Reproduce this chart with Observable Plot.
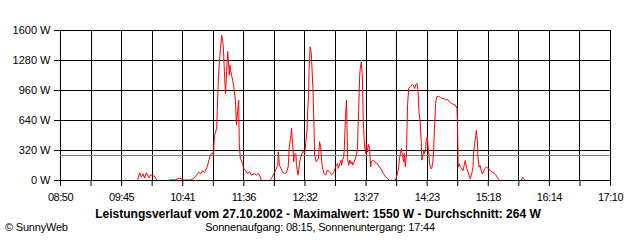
<!DOCTYPE html>
<html>
<head>
<meta charset="utf-8">
<script src="https://cdn.jsdelivr.net/npm/d3@7"></script>
<script src="https://cdn.jsdelivr.net/npm/@observablehq/plot@0.6"></script>
<style>
  html, body { margin: 0; padding: 0; background: #fff; }
  #wrap { position: relative; width: 640px; height: 240px; font-family: "Liberation Sans", Arial, sans-serif; color: #000; }
  #wrap svg { display: block; }
  #wrap svg [aria-label="x-axis tick label"] text { letter-spacing: -0.5px; }
  .cap { position: absolute; white-space: nowrap; text-align: center; }
  #title { top: 209px; left: 68px; width: 500px; font-weight: bold; font-size: 12px; line-height: 10px; letter-spacing: 0px; }
  #sub { top: 222px; left: 120px; width: 400px; font-size: 11px; line-height: 10px; letter-spacing: -0.2px; }
  #copy { top: 222px; left: 5px; font-size: 11px; line-height: 10px; text-align: left; letter-spacing: -0.2px; }
</style>
</head>
<body>
<div id="wrap">
  <div id="chart"></div>
  <div id="title" class="cap"></div>
  <div id="sub" class="cap"></div>
  <div id="copy" class="cap"></div>
</div>
<script>
// ---- data ----
const times = [
  "10:00","10:02","10:03:30","10:05","10:06:30","10:08","10:10:30","10:12","10:13:30","10:15:30","10:17:30","10:18",
  "10:28","10:29","10:34:30","10:36:30","10:38","10:40","10:42","10:48","10:51",
  "10:54:30","10:55:30","10:57:30","10:59","11:01","11:03:30","11:05","11:06:30","11:08","11:09","11:09:30",
  "11:10","11:12","11:12:30","11:13:30","11:14:30","11:15:30","11:16:30","11:17:30","11:18","11:19","11:20","11:21",
  "11:22","11:22:30","11:23:30","11:24","11:25:30","11:26:30","11:27:30","11:29","11:30","11:31","11:32","11:32:30",
  "11:33:30","11:35:30","11:36:30","11:38","11:40","11:42","11:43:30","11:46:30","11:48","11:50","11:52","11:52:30",
  "12:00","12:01","12:02:30","12:05:30","12:07:30","12:08","12:09","12:10:30","12:12","12:14","12:15:30","12:17","12:18",
  "12:19:30","12:20","12:21","12:22","12:22:30","12:24","12:24:30","12:26","12:27:30","12:28:30","12:29:30","12:30:30",
  "12:32","12:33","12:34","12:35","12:35:30","12:36","12:37","12:37:30","12:38","12:39:30","12:40:30","12:41",
  "12:42:30","12:44:30","12:45:30","12:46:30","12:47:30","12:48","12:49:30","12:51","12:52:30","12:54:30","12:56:30","12:58:30",
  "13:00","13:02","13:02:30","13:04","13:05","13:05:30","13:06:30","13:07:30","13:08","13:09","13:10","13:10:30",
  "13:11","13:12","13:13","13:14","13:15","13:15:30","13:17","13:18","13:19","13:20","13:20:30","13:21","13:22",
  "13:22:30","13:23:30","13:24:30","13:25","13:25:30","13:26:30","13:27:30","13:28","13:29","13:30","13:31","13:32",
  "13:32:30","13:34","13:35:30","13:38","13:40","13:42","13:43:30","13:45:30","13:47:30","13:49","13:54:30",
  "13:56","13:57:30","13:58","13:59","14:00","14:01","14:02","14:02:30","14:03:30","14:04:30","14:05","14:05:30",
  "14:06:30","14:07:30","14:08:30","14:10","14:11","14:12","14:13","14:14","14:15","14:16","14:17","14:18","14:18:30",
  "14:19:30","14:20:30","14:21","14:22","14:22:30","14:23:30","14:24:30","14:25","14:25:30","14:26:30","14:27:30",
  "14:28:30","14:29","14:30","14:31","14:32","14:33:30","14:35:30","14:37","14:38:30","14:40","14:42","14:43:30",
  "14:45:30","14:47:30","14:49","14:50:30","14:51","14:51:30","14:52:30","14:53:30","14:55","14:56","14:57:30","14:58",
  "14:59","15:00:30","15:02","15:02:30","15:03:30","15:05","15:05:30","15:06:30","15:07:30","15:08","15:09","15:09:30",
  "15:10:30","15:11:30","15:12:30","15:13:30","15:14:30","15:15:30","15:17","15:18:30","15:19:30","15:21","15:22:30",
  "15:24","15:25:30","15:27","15:28:30","15:29:30","15:49","15:50","15:51","15:52:30"
];
const watts = [
  0,82,35,71,25,82,29,61,53,46,7,0,
  0,7,7,18,25,18,5,5,21,
  71,89,71,103,85,149,224,277,293,267,373,
  483,555,736,1088,1269,1408,1550,1483,1429,1163,928,1163,
  1376,1301,1123,1230,1123,1070,1003,857,590,736,857,395,
  235,181,128,110,75,93,57,75,57,75,29,0,
  0,11,39,110,163,306,163,128,85,75,85,146,359,
  483,555,395,199,270,288,163,57,199,253,288,313,
  288,413,519,803,910,1195,1426,1390,1355,981,555,270,
  199,235,413,359,199,146,75,57,110,93,64,85,
  146,181,128,181,217,163,217,253,341,661,857,555,
  235,163,217,181,199,163,199,235,270,341,555,733,1123,
  1195,1266,1088,768,555,359,288,395,306,384,341,146,
  199,217,199,181,146,110,75,39,21,0,3,
  57,146,217,288,341,253,199,288,146,270,555,803,
  981,999,1010,1024,1010,981,1024,1035,963,715,626,395,217,
  270,323,288,341,448,466,306,270,181,128,128,
  199,270,555,821,893,899,885,875,875,857,864,839,
  821,811,803,768,587,142,178,142,125,107,195,213,
  142,89,35,18,53,142,285,391,480,533,427,249,
  142,160,107,71,89,125,142,135,114,107,89,
  78,64,35,7,0,0,35,18,0
];
const yTicks = [0, 320, 640, 960, 1280, 1600];
const xTickLabels = ["08:50","09:45","10:41","11:36","12:32","13:27","14:23","15:18","16:14","17:10"];
const average = 264;
const maximum = 1550;
const dateText = "27.10.2002";
const sunrise = "08:15";
const sunset = "17:44";
const copyright = "© SunnyWeb";

// ---- build ----
const toMin = s => { const [h, m, sec = 0] = s.split(":").map(Number); return h * 60 + m + sec / 60; };
const data = times.map((t, i) => ({ t: toMin(t), w: watts[i] }));
const x0 = toMin(xTickLabels[0]);
const x1 = toMin(xTickLabels[xTickLabels.length - 1]);
const steps = (xTickLabels.length - 1) * 2;
const step = (x1 - x0) / steps;
const gridX = d3.range(steps + 1).map(i => x0 + i * step);

const chart = Plot.plot({
  width: 640,
  height: 206,
  marginLeft: 60,
  marginRight: 30,
  marginTop: 30,
  marginBottom: 26,
  style: { fontFamily: "Liberation Sans, Arial, sans-serif", fontSize: "11px", color: "#000", background: "#fff" },
  x: { type: "linear", domain: [x0, x1], label: null },
  y: { domain: [0, 1600], label: null },
  marks: [
    Plot.ruleX(gridX, { stroke: "#000", strokeWidth: 1, shapeRendering: "crispEdges" }),
    Plot.ruleY(yTicks, { stroke: "#000", strokeWidth: 1, shapeRendering: "crispEdges" }),
    Plot.ruleY([average], { stroke: "#808080", strokeWidth: 1, shapeRendering: "crispEdges" }),
    Plot.line(data, { x: "t", y: "w", stroke: "#ff0000", strokeWidth: 1, curve: "linear" }),
    Plot.ruleY([0], { stroke: "#000", strokeWidth: 1, shapeRendering: "crispEdges" }),
    Plot.axisY({ ticks: yTicks, label: null, tickSize: 6, tickPadding: 4, tickFormat: d => `${d} W`, stroke: "#000", fill: "#000", fontSize: 11 }),
    Plot.axisX({ ticks: gridX, label: null, tickSize: 6, tickPadding: 7, stroke: "#000", fill: "#000", fontSize: 11,
      tickFormat: d => { const k = Math.round((d - x0) / step); return k % 2 === 0 ? xTickLabels[k / 2] : ""; } })
  ]
});
document.getElementById("chart").appendChild(chart);
document.getElementById("title").textContent =
  `Leistungsverlauf vom ${dateText} - Maximalwert: ${maximum} W - Durchschnitt: ${average} W`;
document.getElementById("sub").textContent = `Sonnenaufgang: ${sunrise}, Sonnenuntergang: ${sunset}`;
document.getElementById("copy").textContent = copyright;
</script>
</body>
</html>
